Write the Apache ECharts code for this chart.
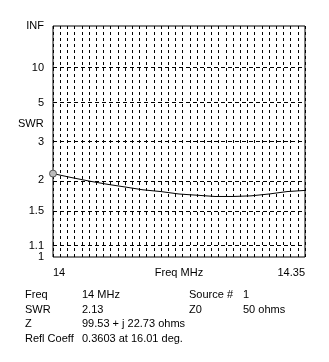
<!DOCTYPE html>
<html><head><meta charset="utf-8">
<script src="https://cdn.jsdelivr.net/npm/echarts@6/dist/echarts.min.js"></script>
<style>html,body{margin:0;padding:0;background:#fff}#c{width:329px;height:362px}</style>
</head><body><div id="c"></div>
<script>
var freqs = [14.000,14.025,14.050,14.075,14.100,14.125,14.150,14.175,14.200,14.225,14.250,14.275,14.300,14.325,14.350];
var swr   = [2.13, 2.05, 1.98, 1.92, 1.87, 1.82, 1.79, 1.75, 1.73, 1.71, 1.71, 1.72, 1.75, 1.79, 1.81];
var swrTicks = [1, 1.1, 1.5, 2, 3, 5, 10, Infinity];
var swrTickLabels = ['1','1.1','1.5','2','3','5','10','INF'];
var xTickLabels = ['14','14.35'];
var infoRows = [
  ['Freq','14 MHz','Source #','1'],
  ['SWR','2.13','Z0','50 ohms'],
  ['Z','99.53 + j 22.73 ohms','',''],
  ['Refl Coeff','0.3603 at 16.01 deg.','','']
];

function rho(s){ return s === Infinity ? 1 : (s-1)/(s+1); }
var tickRho = swrTicks.map(rho);
var FONT = '"Liberation Sans", Arial, sans-serif';

var chart = echarts.init(document.getElementById('c'));
var graphics = [
  {type:'text', left:18, top:118, style:{text:'SWR', fontSize:11, fontFamily:FONT, fill:'#000'}},
  {type:'text', x:179, y:273, style:{text:'Freq MHz', fontSize:11, fontFamily:FONT, fill:'#000', align:'center', verticalAlign:'middle'}}
];
var colX = [25, 82, 189, 243];
var rowY = [289, 304, 318, 333];
infoRows.forEach(function(r, i){
  r.forEach(function(t, j){
    if (t) graphics.push({type:'text', left:colX[j], top:rowY[i], style:{text:t, fontSize:11, fontFamily:FONT, fill:'#000'}});
  });
});

chart.setOption({
  animation:false,
  backgroundColor:'#fff',
  grid:{left:53, top:26, width:252, height:231, show:true, borderColor:'#000', borderWidth:1, backgroundColor:'transparent'},
  xAxis:{type:'value', min:14, max:14.35, interval:0.01,
    axisLine:{show:false}, axisTick:{show:false},
    splitLine:{show:true, lineStyle:{color:'#000', type:[3,3], width:1}},
    axisLabel:{customValues:[14,14.35], formatter:function(v){return Math.abs(v-14)<1e-6?xTickLabels[0]:xTickLabels[1];},
      color:'#000', fontSize:11, fontFamily:FONT, margin:10, alignMinLabel:'left', alignMaxLabel:'right'}
  },
  yAxis:{type:'value', min:0, max:1,
    axisLine:{show:false}, axisTick:{show:false},
    splitLine:{show:false},
    axisLabel:{customValues:tickRho, formatter:function(v){
        for (var i=0;i<tickRho.length;i++) if (Math.abs(tickRho[i]-v)<1e-6) return swrTickLabels[i];
        return '';
      }, color:'#000', fontSize:11, fontFamily:FONT, margin:9}
  },
  graphic:graphics,
  series:[{
    type:'line', data:freqs.map(function(f,i){return [f, rho(swr[i])];}),
    showSymbol:false, symbol:'none', lineStyle:{color:'#000', width:1}, silent:true,
    markLine:{silent:true, symbol:'none', label:{show:false},
      lineStyle:{color:'#000', type:[4,3], width:1},
      data: tickRho.slice(1, tickRho.length-1).map(function(r){return {yAxis:r};})
    },
    markPoint:{data:[{coord:[freqs[0], rho(swr[0])]}], symbol:'circle', symbolSize:7,
      itemStyle:{color:'#bbb', borderColor:'#555', borderWidth:1}, label:{show:false}}
  }]
});
</script></body></html>
